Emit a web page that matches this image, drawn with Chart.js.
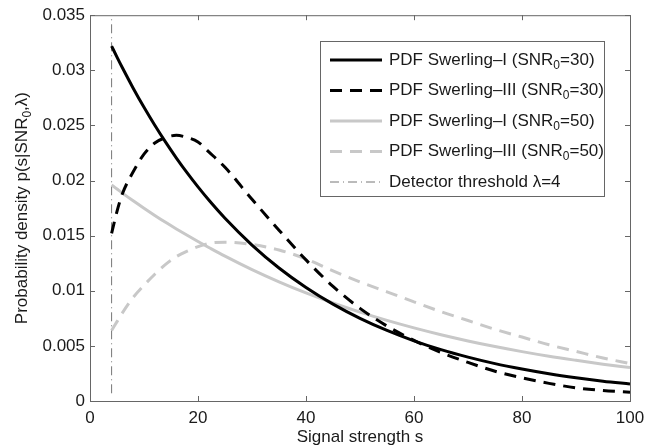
<!DOCTYPE html>
<html>
<head>
<meta charset="utf-8">
<script src="https://cdn.jsdelivr.net/npm/chart.js@4.4.1/dist/chart.umd.min.js"></script>
<style>
  body { margin: 0; background: #fff; }
  #wrap { width: 668px; height: 448px; }
</style>
</head>
<body>
<div id="wrap"><canvas id="chart" width="668" height="448"></canvas></div>
<script>
const signal = [4, 5, 6, 8, 10, 12, 14, 16, 18, 20, 22, 25, 30, 35, 40, 45, 50, 55, 60, 65, 70, 75, 80, 85, 90, 95, 100];

// PDF values for each curve, one entry per signal value
const swerling1Snr30 = [0.0322, 0.0312, 0.03023, 0.02838, 0.02664, 0.02501, 0.02348, 0.02204, 0.02069, 0.01942, 0.01823, 0.01658, 0.01415, 0.01207, 0.0103, 0.00879, 0.0075, 0.0064, 0.00546, 0.00466, 0.00398, 0.00339, 0.0029, 0.00247, 0.00211, 0.0018, 0.00154];
const swerling3Snr30 = [0.0152, 0.0172, 0.0188, 0.0208, 0.0224, 0.0234, 0.0239, 0.0241, 0.0239, 0.0235, 0.0226, 0.0212, 0.0183, 0.0155, 0.0128, 0.0104, 0.0084, 0.0068, 0.0055, 0.0044, 0.0035, 0.0027, 0.0021, 0.0016, 0.0012, 0.00095, 0.0008];
const swerling1Snr50 = [0.0196, 0.01923, 0.01886, 0.01816, 0.01749, 0.01684, 0.01621, 0.01561, 0.01503, 0.01447, 0.01393, 0.01314, 0.01192, 0.01081, 0.0098, 0.00889, 0.00806, 0.00731, 0.00663, 0.00601, 0.00545, 0.00494, 0.00448, 0.00406, 0.00369, 0.00334, 0.00303];
const swerling3Snr50 = [0.0064, 0.0072, 0.008, 0.0094, 0.0105, 0.0115, 0.0124, 0.0131, 0.0136, 0.014, 0.0143, 0.0144, 0.0142, 0.0137, 0.0129, 0.0118, 0.0108, 0.0099, 0.009, 0.0081, 0.0073, 0.0065, 0.0058, 0.0051, 0.0045, 0.0039, 0.0034];

// Detector threshold lambda and the span it is drawn over
const threshold = 4;
const thresholdSpan = [0.0007, 0.035];

// Axis ticks
const xTicks = [0, 20, 40, 60, 80, 100];
const yTicks = [0, 0.005, 0.01, 0.015, 0.02, 0.025, 0.03, 0.035];

// Legend entries: text before subscript, subscript, text after
const legendItems = [
    ['PDF Swerling\u2013I (SNR', '0', '=30)'],
    ['PDF Swerling\u2013III (SNR', '0', '=30)'],
    ['PDF Swerling\u2013I (SNR', '0', '=50)'],
    ['PDF Swerling\u2013III (SNR', '0', '=50)'],
    ['Detector threshold \u03bb=4', '', '']
];

const FONT = "'Liberation Sans', Arial, Helvetica, sans-serif";
const TEXT = '#1a1a1a';
const AXIS = '#666';

function toPoints(ys) {
    return signal.map((s, i) => ({ x: s, y: ys[i] }));
}

function curve(ys, color, dash) {
    return {
        data: toPoints(ys),
        borderColor: color,
        borderWidth: 3,
        borderDash: dash,
        borderCapStyle: 'butt',
        pointRadius: 0,
        showLine: true,
        fill: false,
        cubicInterpolationMode: 'monotone'
    };
}

const datasets = [
    curve(swerling1Snr30, '#000', []),
    curve(swerling3Snr30, '#000', [12, 8]),
    curve(swerling1Snr50, '#c8c8c8', []),
    curve(swerling3Snr50, '#c8c8c8', [12, 8]),
    {
        data: thresholdSpan.map(y => ({ x: threshold, y: y })),
        borderColor: '#777',
        borderWidth: 1,
        borderDash: [9, 4, 1, 4],
        pointRadius: 0,
        showLine: true,
        fill: false
    }
];

// draw text with an optional lowered subscript, returns the width
function drawSubText(ctx, parts, x, y, size, measureOnly) {
    const [a, sub, b] = parts;
    ctx.font = size + 'px ' + FONT;
    const wa = ctx.measureText(a).width;
    const wb = ctx.measureText(b).width;
    ctx.font = Math.round(size * 0.72) + 'px ' + FONT;
    const ws = ctx.measureText(sub).width;
    if (!measureOnly) {
        ctx.font = size + 'px ' + FONT;
        ctx.fillText(a, x, y);
        ctx.font = Math.round(size * 0.72) + 'px ' + FONT;
        ctx.fillText(sub, x + wa, y + size * 0.32);
        ctx.font = size + 'px ' + FONT;
        ctx.fillText(b, x + wa + ws, y);
    }
    return wa + ws + wb;
}

const decorations = {
    id: 'decorations',
    afterDraw(chart) {
        const { ctx, chartArea: a, scales } = chart;
        ctx.save();

        // frame with inward ticks on all four sides
        ctx.strokeStyle = AXIS;
        ctx.lineWidth = 1;
        ctx.setLineDash([]);
        ctx.strokeRect(a.left + 0.5, a.top + 0.5, a.right - a.left, a.bottom - a.top);
        ctx.beginPath();
        xTicks.forEach(v => {
            const px = Math.round(scales.x.getPixelForValue(v)) + 0.5;
            ctx.moveTo(px, a.bottom); ctx.lineTo(px, a.bottom - 5);
            ctx.moveTo(px, a.top); ctx.lineTo(px, a.top + 5);
        });
        yTicks.forEach(v => {
            const py = Math.round(scales.y.getPixelForValue(v)) + 0.5;
            ctx.moveTo(a.left, py); ctx.lineTo(a.left + 5, py);
            ctx.moveTo(a.right, py); ctx.lineTo(a.right - 5, py);
        });
        ctx.stroke();

        // axis titles
        ctx.fillStyle = TEXT;
        ctx.textBaseline = 'middle';
        ctx.textAlign = 'center';
        ctx.font = '17px ' + FONT;
        ctx.fillText('Signal strength s', (a.left + a.right) / 2, 437);

        ctx.textAlign = 'left';
        const yTitle = ['Probability density p(s|SNR', '0', ',\u03bb)'];
        ctx.save();
        ctx.translate(22, (a.top + a.bottom) / 2);
        ctx.rotate(-Math.PI / 2);
        const w = drawSubText(ctx, yTitle, 0, 0, 17, true);
        drawSubText(ctx, yTitle, -w / 2, 0, 17, false);
        ctx.restore();

        // legend box
        const box = { left: 320, top: 41, right: 604, bottom: 196 };
        ctx.fillStyle = '#fff';
        ctx.fillRect(box.left, box.top, box.right - box.left, box.bottom - box.top);
        ctx.strokeStyle = AXIS;
        ctx.lineWidth = 1;
        ctx.strokeRect(box.left + 0.5, box.top + 0.5, box.right - box.left, box.bottom - box.top);

        legendItems.forEach((item, i) => {
            const y = 60 + i * 30.5;
            const ds = chart.data.datasets[i];
            ctx.beginPath();
            ctx.strokeStyle = ds.borderColor;
            ctx.lineWidth = ds.borderWidth;
            ctx.setLineDash(ds.borderDash || []);
            ctx.moveTo(330, y);
            ctx.lineTo(382, y);
            ctx.stroke();
            ctx.setLineDash([]);
            ctx.fillStyle = TEXT;
            drawSubText(ctx, item, 389, y, 17, false);
        });

        ctx.restore();
    }
};

new Chart(document.getElementById('chart'), {
    type: 'scatter',
    data: { datasets: datasets },
    options: {
        responsive: false,
        animation: false,
        layout: { padding: { top: 13, right: 38, left: 0, bottom: 0 } },
        plugins: {
            legend: { display: false },
            tooltip: { enabled: false }
        },
        scales: {
            x: {
                type: 'linear',
                min: 0,
                max: 100,
                afterBuildTicks: scale => { scale.ticks = xTicks.map(v => ({ value: v })); },
                afterFit: scale => { scale.height = 47; },
                grid: { display: false, drawTicks: false },
                border: { display: false },
                ticks: {
                    padding: 7,
                    color: TEXT,
                    font: { family: FONT, size: 17 },
                    maxRotation: 0,
                    callback: v => String(v)
                }
            },
            y: {
                type: 'linear',
                min: 0,
                max: 0.035,
                afterBuildTicks: scale => { scale.ticks = yTicks.map(v => ({ value: v })); },
                afterFit: scale => { scale.width = 90; },
                grid: { display: false, drawTicks: false },
                border: { display: false },
                ticks: {
                    padding: 5,
                    color: TEXT,
                    font: { family: FONT, size: 17 },
                    callback: v => String(+v.toFixed(3))
                }
            }
        }
    },
    plugins: [decorations]
});
</script>
</body>
</html>
